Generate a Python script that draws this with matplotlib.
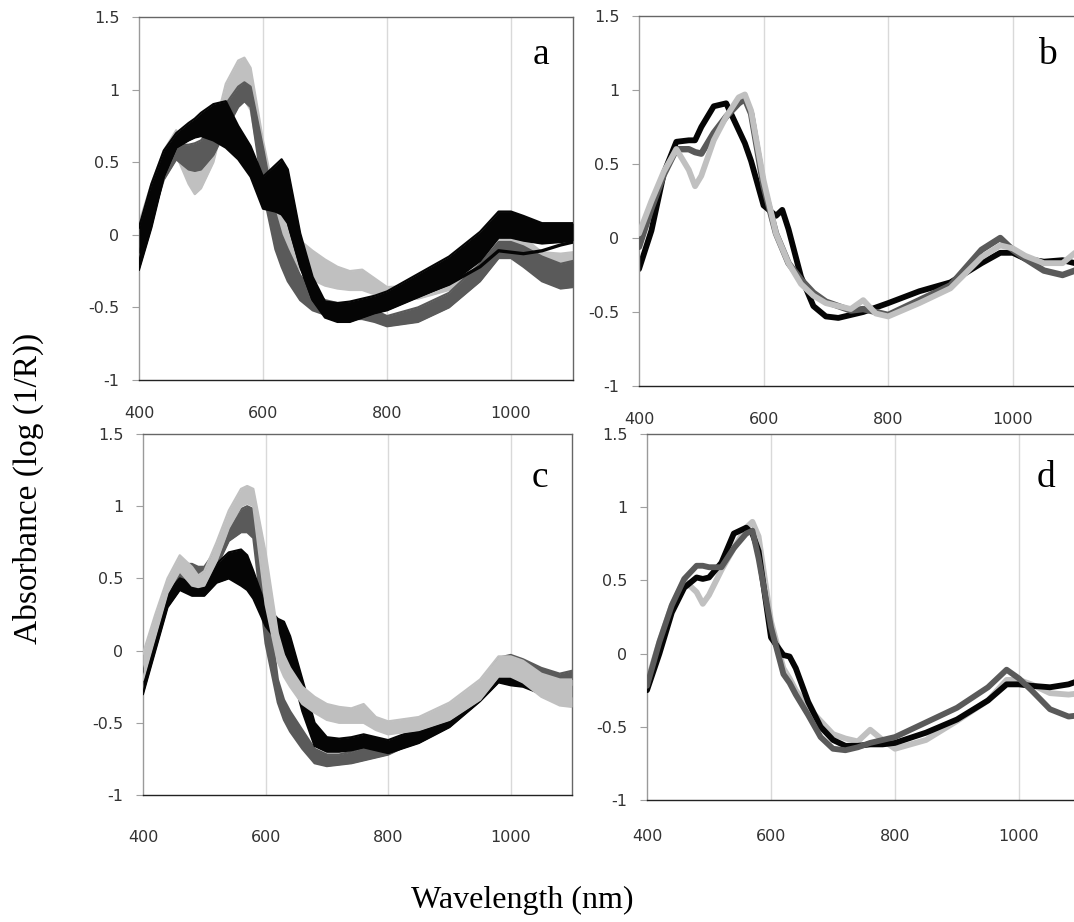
import matplotlib
matplotlib.use("Agg")
import matplotlib.pyplot as plt

# wavelength grid (nm) used for every curve
WL = [400, 420, 440, 460, 480, 490, 500, 520, 540, 560, 570, 580, 600, 620, 630, 640,
      660, 680, 700, 720, 740, 760, 780, 800, 850, 900, 950, 980, 1000, 1020, 1050, 1080, 1100]

# panel a: bundles given as lower / upper envelope
A_BLACK_LO = [-0.24, 0.05, 0.40, 0.60, 0.65, 0.67, 0.68, 0.65, 0.60, 0.52, 0.46, 0.40, 0.18, 0.16, 0.14, 0.08,
              -0.22, -0.45, -0.57, -0.60, -0.60, -0.57, -0.54, -0.52, -0.43, -0.34, -0.18, -0.02, -0.02, -0.04, -0.06, -0.05, -0.04]
A_BLACK_HI = [0.05, 0.35, 0.58, 0.70, 0.77, 0.80, 0.84, 0.90, 0.92, 0.75, 0.68, 0.61, 0.40, 0.48, 0.52, 0.45,
              0.01, -0.29, -0.46, -0.47, -0.46, -0.44, -0.42, -0.39, -0.27, -0.15, 0.02, 0.16, 0.16, 0.13, 0.08, 0.08, 0.08]
# a few black spectra in panel a sit apart from the main bundle on the right
A_BLACK_LOW = [-0.20, 0.10, 0.42, 0.61, 0.66, 0.68, 0.70, 0.70, 0.66, 0.58, 0.52, 0.45, 0.25, 0.18, 0.16, 0.10,
               -0.20, -0.44, -0.55, -0.57, -0.56, -0.54, -0.52, -0.49, -0.42, -0.34, -0.22, -0.11, -0.12, -0.13, -0.11, -0.07, -0.05]
A_DGRAY_LO = [-0.12, 0.10, 0.38, 0.52, 0.45, 0.44, 0.45, 0.55, 0.72, 0.88, 0.92, 0.88, 0.30, -0.10, -0.22, -0.32,
              -0.45, -0.52, -0.55, -0.57, -0.58, -0.58, -0.60, -0.63, -0.60, -0.50, -0.32, -0.16, -0.16, -0.22, -0.32, -0.37, -0.36]
A_DGRAY_HI = [0.05, 0.30, 0.52, 0.62, 0.62, 0.63, 0.65, 0.75, 0.90, 1.02, 1.05, 1.02, 0.60, 0.15, 0.00, -0.10,
              -0.28, -0.38, -0.45, -0.47, -0.48, -0.50, -0.52, -0.56, -0.50, -0.40, -0.20, -0.05, -0.05, -0.08, -0.15, -0.20, -0.18]
A_LGRAY_LO = [-0.05, 0.22, 0.48, 0.55, 0.35, 0.28, 0.32, 0.50, 0.84, 0.93, 0.93, 0.86, 0.38, 0.06, -0.02, -0.12,
              -0.24, -0.31, -0.35, -0.37, -0.38, -0.38, -0.41, -0.43, -0.44, -0.38, -0.25, -0.08, -0.08, -0.10, -0.20, -0.20, -0.20]
A_LGRAY_HI = [0.08, 0.35, 0.58, 0.72, 0.55, 0.45, 0.50, 0.70, 1.04, 1.20, 1.22, 1.15, 0.65, 0.24, 0.14, 0.06,
              -0.04, -0.11, -0.17, -0.22, -0.25, -0.24, -0.30, -0.36, -0.35, -0.27, -0.13, 0.00, 0.00, -0.02, -0.12, -0.13, -0.12]

# panel c: bundles given as lower / upper envelope
C_BLACK_LO = [-0.30, 0.00, 0.30, 0.42, 0.38, 0.38, 0.38, 0.47, 0.50, 0.45, 0.42, 0.36, 0.17, 0.06, 0.00, -0.10,
              -0.42, -0.66, -0.70, -0.70, -0.69, -0.67, -0.69, -0.71, -0.64, -0.53, -0.35, -0.22, -0.24, -0.25, -0.30, -0.33, -0.32]
C_BLACK_HI = [-0.15, 0.15, 0.40, 0.50, 0.47, 0.47, 0.50, 0.60, 0.68, 0.70, 0.66, 0.55, 0.31, 0.22, 0.20, 0.10,
              -0.20, -0.50, -0.60, -0.61, -0.60, -0.58, -0.60, -0.62, -0.54, -0.42, -0.25, -0.14, -0.16, -0.18, -0.22, -0.25, -0.24]
C_DGRAY_LO = [-0.28, 0.05, 0.35, 0.50, 0.50, 0.48, 0.48, 0.58, 0.76, 0.82, 0.82, 0.78, 0.05, -0.36, -0.48, -0.56,
              -0.68, -0.78, -0.80, -0.79, -0.78, -0.76, -0.74, -0.72, -0.62, -0.50, -0.34, -0.14, -0.12, -0.14, -0.22, -0.26, -0.24]
C_DGRAY_HI = [-0.10, 0.20, 0.45, 0.60, 0.60, 0.58, 0.58, 0.70, 0.87, 0.98, 1.00, 0.98, 0.45, -0.20, -0.34, -0.42,
              -0.55, -0.68, -0.72, -0.72, -0.70, -0.67, -0.66, -0.64, -0.54, -0.42, -0.25, -0.05, -0.03, -0.06, -0.12, -0.16, -0.14]
C_LGRAY_LO = [-0.20, 0.10, 0.40, 0.55, 0.45, 0.44, 0.45, 0.62, 0.85, 1.00, 1.02, 1.00, 0.32, -0.08, -0.18, -0.25,
              -0.37, -0.43, -0.48, -0.50, -0.50, -0.50, -0.55, -0.58, -0.55, -0.48, -0.34, -0.18, -0.18, -0.22, -0.32, -0.38, -0.39]
C_LGRAY_HI = [-0.02, 0.25, 0.50, 0.66, 0.58, 0.52, 0.55, 0.75, 0.97, 1.12, 1.14, 1.12, 0.68, 0.12, -0.03, -0.12,
              -0.25, -0.32, -0.37, -0.39, -0.40, -0.37, -0.46, -0.49, -0.46, -0.36, -0.20, -0.04, -0.04, -0.07, -0.16, -0.20, -0.20]

# panels b and d: narrow bundles given as one centre line each
B_BLACK = [-0.21, 0.05, 0.44, 0.65, 0.66, 0.66, 0.75, 0.89, 0.91, 0.73, 0.64, 0.52, 0.22, 0.15, 0.19, 0.06,
           -0.26, -0.46, -0.53, -0.54, -0.52, -0.50, -0.47, -0.44, -0.36, -0.30, -0.17, -0.10, -0.10, -0.14, -0.16, -0.15, -0.17]
B_DGRAY = [-0.06, 0.20, 0.43, 0.60, 0.60, 0.58, 0.57, 0.71, 0.82, 0.91, 0.94, 0.84, 0.35, 0.03, -0.07, -0.17,
           -0.28, -0.37, -0.43, -0.46, -0.49, -0.48, -0.50, -0.52, -0.42, -0.32, -0.08, 0.00, -0.08, -0.14, -0.22, -0.25, -0.22]
B_LGRAY = [0.03, 0.25, 0.45, 0.60, 0.46, 0.35, 0.42, 0.66, 0.82, 0.95, 0.97, 0.86, 0.39, 0.03, -0.07, -0.17,
           -0.31, -0.39, -0.44, -0.46, -0.48, -0.42, -0.51, -0.53, -0.44, -0.34, -0.13, -0.05, -0.07, -0.12, -0.17, -0.17, -0.10]
D_BLACK = [-0.25, 0.00, 0.28, 0.45, 0.52, 0.51, 0.52, 0.62, 0.82, 0.86, 0.82, 0.70, 0.11, -0.01, -0.02, -0.10,
           -0.33, -0.50, -0.59, -0.63, -0.63, -0.62, -0.62, -0.61, -0.54, -0.45, -0.32, -0.21, -0.21, -0.22, -0.23, -0.21, -0.18]
D_DGRAY = [-0.22, 0.08, 0.33, 0.51, 0.60, 0.60, 0.59, 0.59, 0.72, 0.82, 0.84, 0.65, 0.18, -0.14, -0.20, -0.28,
           -0.42, -0.57, -0.65, -0.66, -0.64, -0.61, -0.59, -0.57, -0.47, -0.37, -0.23, -0.11, -0.17, -0.25, -0.38, -0.43, -0.42]
D_LGRAY = [-0.20, 0.08, 0.33, 0.50, 0.42, 0.34, 0.40, 0.57, 0.72, 0.86, 0.90, 0.80, 0.22, -0.10, -0.17, -0.25,
           -0.37, -0.46, -0.55, -0.58, -0.60, -0.52, -0.59, -0.65, -0.59, -0.46, -0.32, -0.18, -0.18, -0.21, -0.27, -0.28, -0.27]

Y_TICKS = [-1, -0.5, 0, 0.5, 1, 1.5]
Y_TICK_LABELS = ["-1", "-0.5", "0", "0.5", "1", "1.5"]
X_TICKS = [400, 600, 800, 1000]
X_TICK_LABELS = ["400", "600", "800", "1000"]
PANEL_LETTERS = ["a", "b", "c", "d"]

BLACK = "#050505"
DGRAY = "#5a5a5a"
LGRAY = "#c0c0c0"
SERIF = "Liberation Serif"

W, H = 1074, 922


def px_rect(left, top, right, bottom):
    """Convert a pixel box into figure fractions."""
    return [left / W, 1 - bottom / H, (right - left) / W, (bottom - top) / H]


def style_axis(ax, label_pad):
    ax.set_xlim(400, 1100)
    ax.set_ylim(-1, 1.5)
    ax.set_yticks(Y_TICKS, Y_TICK_LABELS)
    ax.set_xticks(X_TICKS, X_TICK_LABELS)
    ax.tick_params(axis="y", length=5, width=0.8, color="#a0a0a0", pad=9,
                   labelsize=11.5, labelcolor="#333333")
    ax.tick_params(axis="x", length=0, pad=label_pad, labelsize=11.5, labelcolor="#333333")
    for x in X_TICKS[1:]:
        ax.axvline(x, color="#d9d9d9", lw=1.0, zorder=0)
    ax.spines["left"].set_color("#9a9a9a")
    ax.spines["bottom"].set_color("#222222")
    ax.spines["top"].set_color("#666666")
    ax.spines["right"].set_color("#666666")
    for s in ax.spines.values():
        s.set_linewidth(1.0)


def band(ax, lo, hi, color, z):
    ax.fill_between(WL, lo, hi, color=color, lw=0, zorder=z)
    ax.plot(WL, lo, color=color, lw=1.6, zorder=z, solid_joinstyle="round")
    ax.plot(WL, hi, color=color, lw=1.6, zorder=z, solid_joinstyle="round")


def line(ax, ys, color, z, lw=4.2):
    ax.plot(WL, ys, color=color, lw=lw, zorder=z, solid_capstyle="round",
            solid_joinstyle="round")


fig = plt.figure(figsize=(W / 100, H / 100), dpi=100)
plt.rcParams["font.family"] = ["DejaVu Sans"]

ax_a = fig.add_axes(px_rect(139, 17, 573, 380))
ax_b = fig.add_axes(px_rect(639, 16, 1075, 386))
ax_c = fig.add_axes(px_rect(143, 434, 572, 795))
ax_d = fig.add_axes(px_rect(647, 434, 1081, 800))

band(ax_a, A_LGRAY_LO, A_LGRAY_HI, LGRAY, 2)
band(ax_a, A_DGRAY_LO, A_DGRAY_HI, DGRAY, 3)
band(ax_a, A_BLACK_LO, A_BLACK_HI, BLACK, 4)
line(ax_a, A_BLACK_LOW, BLACK, 4, lw=2.4)

line(ax_b, B_BLACK, BLACK, 2)
line(ax_b, B_DGRAY, DGRAY, 3, lw=4.6)
line(ax_b, B_LGRAY, LGRAY, 4)

band(ax_c, C_DGRAY_LO, C_DGRAY_HI, DGRAY, 2)
band(ax_c, C_BLACK_LO, C_BLACK_HI, BLACK, 3)
band(ax_c, C_LGRAY_LO, C_LGRAY_HI, LGRAY, 4)

line(ax_d, D_LGRAY, LGRAY, 2)
line(ax_d, D_BLACK, BLACK, 3)
line(ax_d, D_DGRAY, DGRAY, 4)

style_axis(ax_a, 19)
style_axis(ax_b, 19)
style_axis(ax_c, 25)
style_axis(ax_d, 21)

letter_pos = [(0.926, 0.870), (0.936, 0.870), (0.925, 0.854), (0.919, 0.856)]
for ax, letter, (lx, ly) in zip([ax_a, ax_b, ax_c, ax_d], PANEL_LETTERS, letter_pos):
    ax.text(lx, ly, letter, transform=ax.transAxes, ha="center", va="baseline",
            fontsize=27, family=SERIF, color="black", zorder=10)

fig.text(28 / W, 1 - 488 / H, "Absorbance (log (1/R))", rotation=90, ha="center",
         va="center", fontsize=24, family=SERIF)
fig.text(522 / W, 1 - 908 / H, "Wavelength (nm)", ha="center", va="baseline",
         fontsize=23, family=SERIF)

fig.savefig("out.png", dpi=100)
